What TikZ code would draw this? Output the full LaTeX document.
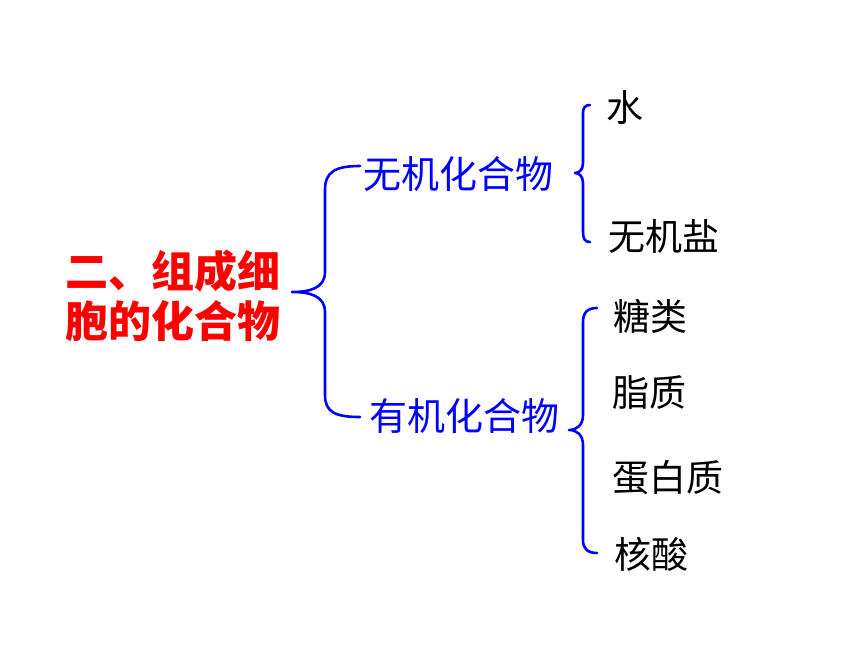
\documentclass[tikz,border=0pt]{standalone}
\usepackage{fontspec}
\usepackage{tikz}
\newfontfamily\cjk{Noto Sans CJK SC}

\tikzset{
    brace/.style={draw=blue, line width=2.6pt, line cap=round, line join=round},
    title/.style={text=red, font=\cjk\bfseries\fontsize{43}{50}\selectfont, align=left, inner sep=0pt},
    group/.style={text=blue, font=\cjk\fontsize{38}{40}\selectfont, inner sep=0pt},
    item/.style={text=black, font=\cjk\fontsize{37}{40}\selectfont, inner sep=0pt}
}

\begin{document}
\begin{tikzpicture}[x=1pt, y=-1pt]
        \useasboundingbox (0, 0) rectangle (860, 645);

        \node[title] (title) at (173, 296) {二、组成细\\胞的化合物};

        \draw[brace] (360, 166) .. controls (335, 166) and (325, 172) .. (325, 190) -- (325, 272)
            .. controls (325, 288) and (310, 292) .. (292, 292)
            .. controls (310, 292) and (325, 296) .. (325, 312) -- (325, 395)
            .. controls (325, 412) and (335, 417) .. (360, 417);

        \node[group] (inorg) at (458, 174) {无机化合物};
        \node[group] (org) at (464, 416) {有机化合物};

        \draw[brace] (590, 105) .. controls (585, 105) and (583, 108) .. (583, 113) -- (583, 163)
            .. controls (583, 170) and (579, 173) .. (575, 173)
            .. controls (579, 173) and (583, 176) .. (583, 183) -- (583, 232)
            .. controls (583, 239) and (585, 242) .. (590, 242);

        \node[item] (water) at (625, 107) {水};
        \node[item] (salt) at (664, 236) {无机盐};

        \draw[brace] (597, 308) .. controls (588, 308) and (583, 312) .. (583, 322) -- (583, 415)
            .. controls (583, 425) and (577, 430) .. (569, 430)
            .. controls (577, 430) and (583, 435) .. (583, 445) -- (583, 540)
            .. controls (583, 549) and (588, 553) .. (597, 553);

        \node[item] (sugar) at (650, 316) {糖类};
        \node[item] (lipid) at (649, 393) {脂质};
        \node[item] (protein) at (668, 478) {蛋白质};
        \node[item] (nucleic) at (651, 554) {核酸};

    \end{tikzpicture}
\end{document}
